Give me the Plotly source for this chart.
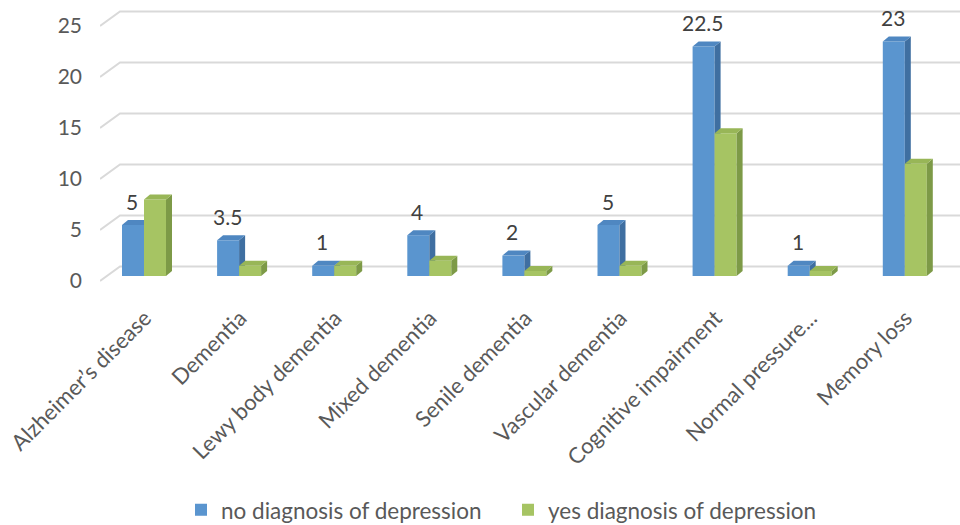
import plotly.graph_objects as go

# Chart data
categories = [
    "Alzheimer\u2019s disease", "Dementia", "Lewy body dementia", "Mixed dementia",
    "Senile dementia", "Vascular dementia", "Cognitive impairment",
    "Normal pressure...", "Memory loss",
]
no_depression = [5, 3.5, 1, 4, 2, 5, 22.5, 1, 23]
yes_depression = [7.5, 1, 1, 1.5, 0.5, 1, 14, 0.5, 11]
y_ticks = [0, 5, 10, 15, 20, 25]
series_names = ["no diagnosis of depression", "yes diagnosis of depression"]

# Layout geometry (pixels)
W, H = 960, 525
L, R, T, B = 100, 960, 5, 298
px_x = 95.1          # pixels per category
px_y = 10.2          # pixels per value unit
first_center = 144   # pixel x of first category centre
label_zero = 281     # pixel y of value 0 on the label (front) plane
bar_zero = 276       # pixel y of value 0 at the bars' front face

xmin = -(first_center - L) / px_x
xmax = xmin + (R - L) / px_x
y_range = [-(B - label_zero) / px_y, (label_zero - T) / px_y]
bar_range = [-(B - bar_zero) / px_y, (bar_zero - T) / px_y]

bar_w = 22 / px_x                 # bar width in category units
dx, dz = 6 / px_x, 5 / px_y       # bar depth projection
wall_dx, wall_dz = 20 / px_x, 14.5 / px_y   # floor/wall depth projection

styles = [
    dict(front="#5A95CF", side="#3F6FA1", top="#4F87C1", offset=-bar_w, axis="y2"),
    dict(front="#A6C463", side="#7D9A47", top="#98B657", offset=0.0, axis="y3"),
]

fig = go.Figure()

# Back gridlines with the diagonal edge of the side wall
for v in y_ticks:
    fig.add_trace(go.Scatter(
        x=[xmin, xmin + wall_dx, xmax],
        y=[v, v + wall_dz, v + wall_dz],
        mode="lines", line=dict(color="#D9D9D9", width=2),
        hoverinfo="skip", showlegend=False, yaxis="y",
    ))

for values, name, st in zip([no_depression, yes_depression], series_names, styles):
    # front faces
    fig.add_trace(go.Bar(
        x=list(range(len(categories))), y=values, name=name,
        width=bar_w, offset=st["offset"], marker=dict(color=st["front"], line=dict(width=0)),
        yaxis=st["axis"],
    ))
    # side and top faces
    for i, v in enumerate(values):
        xl = i + st["offset"]
        xr = xl + bar_w
        fig.add_trace(go.Scatter(
            x=[xr, xr + dx, xr + dx, xr, xr], y=[0, dz, v + dz, v, 0],
            fill="toself", fillcolor=st["side"], mode="lines", line=dict(width=0),
            hoverinfo="skip", showlegend=False, yaxis=st["axis"],
        ))
        fig.add_trace(go.Scatter(
            x=[xl, xl + dx, xr + dx, xr, xl], y=[v, v + dz, v + dz, v, v],
            fill="toself", fillcolor=st["top"], mode="lines", line=dict(width=0),
            hoverinfo="skip", showlegend=False, yaxis=st["axis"],
        ))

# Value labels above the first series
for i, v in enumerate(no_depression):
    fig.add_annotation(
        x=i - bar_w / 2, y=v, xref="x", yref="y2", text=f"{v:g}",
        showarrow=False, yshift=24, xshift=-1, yanchor="middle", xanchor="center",
        font=dict(family="Lato", size=21, color="#404040"),
    )

axis_common = dict(showgrid=False, zeroline=False, showline=False, ticks="", automargin=False)
fig.update_layout(
    width=W, height=H,
    margin=dict(l=L, r=W - R, t=T, b=H - B, pad=0, autoexpand=False),
    paper_bgcolor="white", plot_bgcolor="white",
    font=dict(family="Lato", color="#595959"),
    xaxis=dict(
        range=[xmin, xmax], tickmode="array", tickvals=list(range(len(categories))),
        ticktext=categories, tickangle=-45, tickfont=dict(size=22, color="#595959"),
        ticklabelshift=1, ticklabelstandoff=2, **axis_common,
    ),
    yaxis=dict(
        range=y_range, tickmode="array", tickvals=y_ticks,
        tickfont=dict(size=21, color="#595959"), ticklabelstandoff=17, **axis_common,
    ),
    yaxis2=dict(range=bar_range, overlaying="y", visible=False),
    yaxis3=dict(range=bar_range, overlaying="y", visible=False),
    barmode="overlay",
    showlegend=True,
    legend=dict(
        orientation="h", x=(181 - L) / (R - L), xanchor="left", y=-0.724, yanchor="middle",
        font=dict(size=22.5, color="#595959"), traceorder="normal",
        itemwidth=30, entrywidth=282, entrywidthmode="pixels",
    ),
)

fig.write_html("out.html")
